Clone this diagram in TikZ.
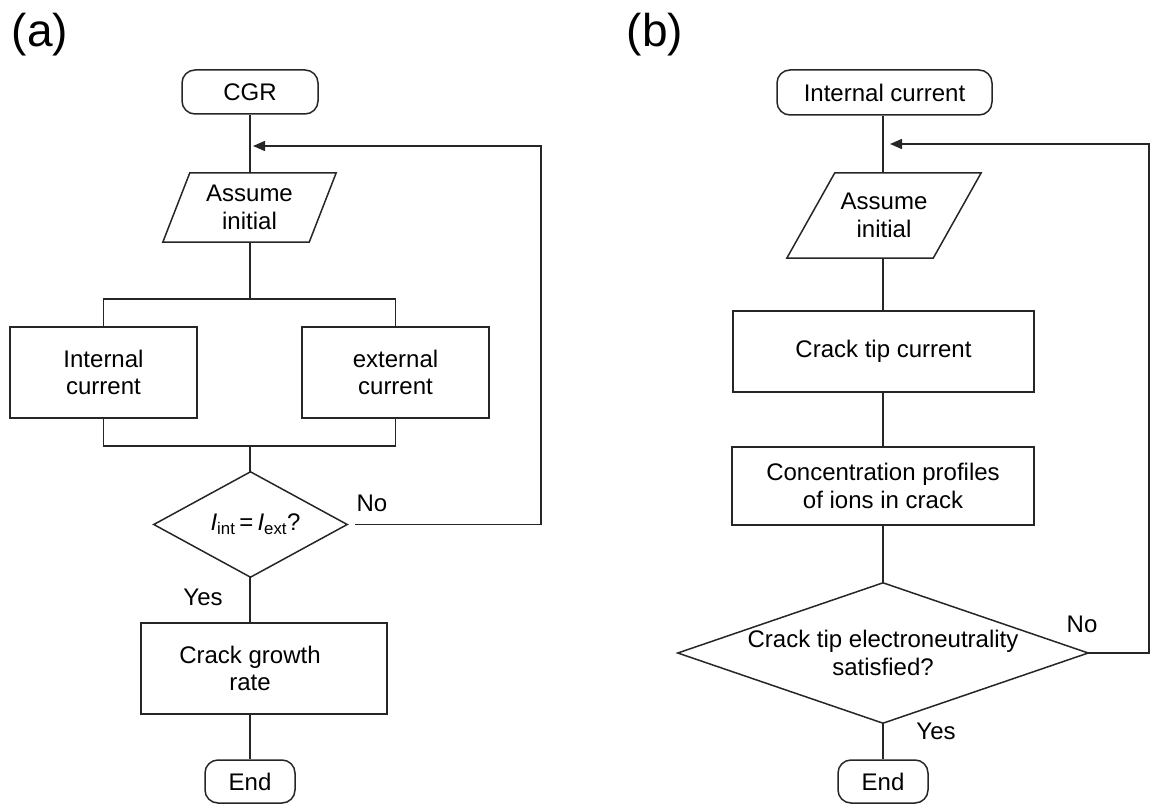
\documentclass[tikz,border=0pt]{standalone}
\usepackage{fontspec}
\setmainfont{Liberation Sans}
\usetikzlibrary{arrows.meta}
\begin{document}
\begin{tikzpicture}[x=1pt,y=-1pt]
\tikzset{
  ln/.style={line width=1.5pt, draw=black!85},
  txt/.style={font=\fontsize{24}{27.5}\selectfont, align=center, inner sep=0pt, text=black},
  procbox/.style={txt, draw=black!85, line width=1.5pt, rectangle},
  termbox/.style={procbox, rounded corners=13pt},
  holder/.style={txt, rectangle},
  lab/.style={font=\fontsize{46}{50}\selectfont, inner sep=0pt},
  arr/.style={ln, -{Triangle[length=12pt,width=10pt]}},
}
\useasboundingbox (0,0) rectangle (1151,805);

% ---------- panel labels
\node[lab] (la) at (40,35) {(a)};
\node[lab] (lb) at (655,35) {(b)};

% ---------- panel (a)
\node[termbox, minimum width=136pt, minimum height=44pt] (cgr) at (250,92) {CGR};
\coordinate (ma) at (250,146);
\node[holder, minimum width=173pt, minimum height=69pt] (pa) at (249.5,207.5) {Assume\\initial};
\draw[ln] (pa.south west) -- ([xshift=-27pt]pa.south east) -- (pa.north east) -- ([xshift=27pt]pa.north west) -- cycle;
\coordinate (sa) at (250,299);
\node[procbox, minimum width=187pt, minimum height=91pt] (ia) at (103.5,372.5) {Internal\\current};
\node[procbox, minimum width=187pt, minimum height=91pt] (ea) at (395.5,372.5) {external\\current};
\coordinate (ja) at (250,446);
\node[holder, minimum width=193pt, minimum height=105pt] (da) at (250.5,524.5) {\hspace*{10pt}\textit{I}\textsubscript{int}\,=\,\textit{I}\textsubscript{ext}?};
\draw[ln] (da.north) -- (da.east) -- (da.south) -- (da.west) -- cycle;
\node[procbox, minimum width=246pt, minimum height=91pt] (cga) at (264,668.5) {};
\node[txt] (cgat) at (250,668.5) {Crack growth\\rate};
\node[termbox, minimum width=90pt, minimum height=43pt] (enda) at (250,781.5) {End};
\node[txt] (ya) at (203,597) {Yes};
\node[txt] (na) at (372,503) {No};
\coordinate (ra) at (541,146);

\draw[ln] (cgr.south -| ma) -- (pa.north -| ma);
\draw[ln] (pa.south -| sa) -- (sa);
\draw[ln] (ia.north) |- (sa) -| (ea.north);
\draw[ln] (ia.south) |- (ja) -| (ea.south);
\draw[ln] (ja) -- (da.north -| ja);
\draw[ln] (da.south -| ja) -- (cga.north -| ja);
\draw[ln] (cga.south -| enda.north) -- (enda.north);
\draw[arr] ([xshift=8pt]da.east) -| (ra) -- ([xshift=3pt]ma);

% ---------- panel (b)
\node[termbox, minimum width=215pt, minimum height=45pt] (ib) at (884.5,92.5) {Internal current};
\coordinate (mb) at (883,144);
\node[holder, minimum width=194pt, minimum height=85pt] (pb) at (884,215.5) {Assume\\initial};
\draw[ln] (pb.south west) -- ([xshift=-48pt]pb.south east) -- (pb.north east) -- ([xshift=48pt]pb.north west) -- cycle;
\node[procbox, minimum width=301pt, minimum height=81pt] (ctc) at (883.5,351.5) {Crack tip current};
\node[procbox, minimum width=302pt, minimum height=78pt] (conc) at (883,486) {Concentration profiles\\of ions in crack};
\node[holder, minimum width=410pt, minimum height=140pt] (db) at (883,653) {Crack tip electroneutrality\\satisfied?};
\draw[ln] (db.north) -- (db.east) -- (db.south) -- (db.west) -- cycle;
\node[termbox, minimum width=90pt, minimum height=43pt] (endb) at (883,781.5) {End};
\node[txt] (yb) at (936,731) {Yes};
\node[txt] (nb) at (1082,624) {No};
\coordinate (rb) at (1149,144);

\draw[ln] (ib.south -| mb) -- (pb.north -| mb);
\draw[ln] (pb.south -| mb) -- (ctc.north -| mb);
\draw[ln] (ctc.south -| mb) -- (conc.north -| mb);
\draw[ln] (conc.south -| mb) -- (db.north);
\draw[ln] (db.south) -- (endb.north);
\draw[arr] (db.east) -| (rb) -- ([xshift=7pt]mb);
\end{tikzpicture}
\end{document}
